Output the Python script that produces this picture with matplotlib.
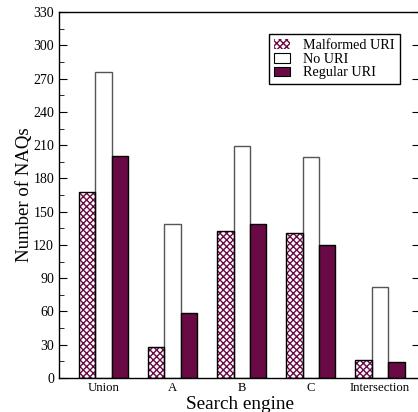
import matplotlib

matplotlib.use("Agg")
import matplotlib.pyplot as plt
import numpy as np
from matplotlib.patches import Patch
from matplotlib.ticker import MultipleLocator

plt.rcParams["font.family"] = ["Liberation Serif", "DejaVu Serif"]

engines = ["Union", "A", "B", "C", "Intersection"]
malformed_uri = [168, 28, 133, 131, 16]
no_uri = [276, 139, 209, 199, 82]
regular_uri = [200, 59, 139, 120, 14]

MAROON = "#6a0a45"
W = 0.237  # bar width in group units

fig = plt.figure(figsize=(4.18, 4.12), dpi=100)
ax = fig.add_axes([0.141, 0.0825, 0.864, 0.888])

x = np.arange(len(engines))

# hatched bars: pattern in maroon, then a black outline on top
ax.bar(x - W, malformed_uri, W, color="white", edgecolor=MAROON,
       hatch="xxxxx", lw=0, zorder=2)
ax.bar(x - W, malformed_uri, W, fill=False, edgecolor="black", lw=1.0, zorder=3)
ax.bar(x, no_uri, W, color="white", edgecolor="#555555", lw=1.0, zorder=2)
ax.bar(x + W, regular_uri, W, color=MAROON, edgecolor="black", lw=1.0, zorder=2)

ax.set_xlim(-0.644, 4.58)
ax.set_ylim(0, 330)
ax.yaxis.set_major_locator(MultipleLocator(30))
ax.yaxis.set_minor_locator(MultipleLocator(15))
ax.tick_params(axis="y", which="major", direction="in", left=True, right=True,
               length=6, labelsize=10)
ax.tick_params(axis="y", which="minor", direction="in", left=True, right=False,
               length=3.5)
ax.set_xticks(x)
ax.set_xticklabels(engines, fontsize=9.2)
ax.tick_params(axis="x", length=0, pad=3)
for s in ax.spines.values():
    s.set_linewidth(1.0)

ax.set_ylabel("Number of NAQs", fontsize=13.5, labelpad=0.5)
ax.set_xlabel("Search engine", fontsize=13.8, labelpad=1)

handles = [
    Patch(facecolor="white", edgecolor=MAROON, hatch="xxxxx", lw=0),
    Patch(facecolor="white", edgecolor="black", lw=0.8),
    Patch(facecolor=MAROON, edgecolor="black", lw=0.8),
]
ax.legend(handles, ["Malformed URI", "No URI", "Regular URI"],
          loc="upper left", bbox_to_anchor=(0.582, 0.94), fontsize=10.2,
          frameon=True, fancybox=False, edgecolor="black", framealpha=1,
          handlelength=1.1, handleheight=0.7, handletextpad=0.95,
          labelspacing=0.05, borderpad=0.35, borderaxespad=0)

fig.savefig("out.png", dpi=100)
